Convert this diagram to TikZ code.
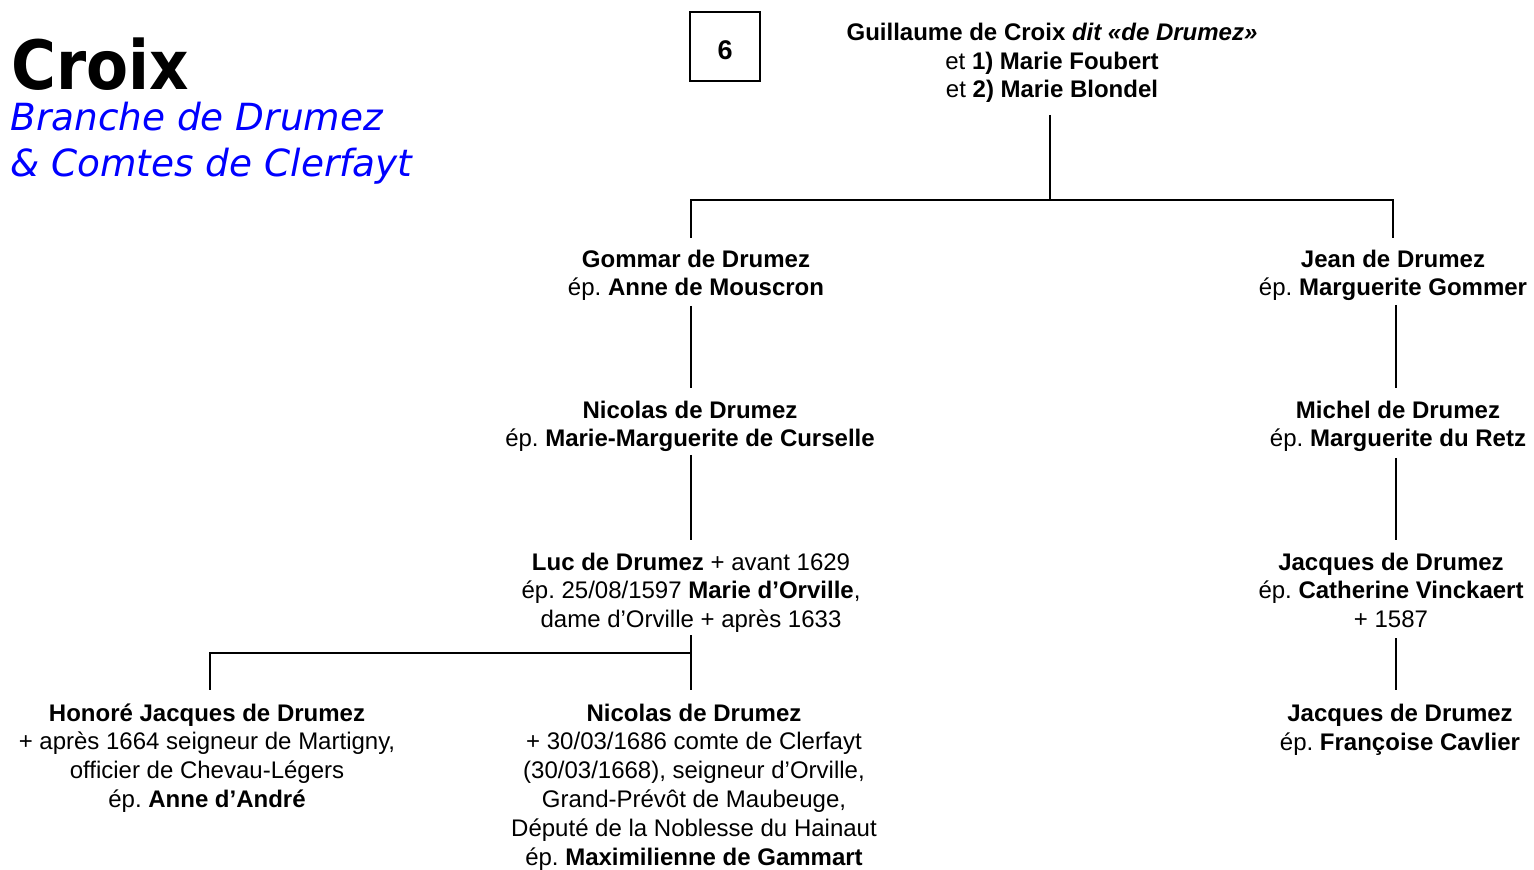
\documentclass[tikz,border=0pt]{standalone}
\usepackage{fontspec}
\setmainfont{Liberation Sans}
\newfontfamily\titlefont[FakeStretch=0.9]{DejaVu Sans}
\newfontfamily\subfont{DejaVu Sans}
\frenchspacing
\begin{document}
\begin{tikzpicture}[x=0.5pt,y=-0.5pt,
  person/.style={align=center,inner sep=0pt,anchor=base,font=\fontsize{12}{14.4}\selectfont},
  link/.style={line width=1.3pt,line join=miter}]
\useasboundingbox (0,0) rectangle (1534,870);
% titles (base anchor = baseline of last line)
\node[anchor=base west,inner sep=0pt,font=\titlefont\bfseries\fontsize{34}{34}\selectfont] (title) at (11,90) {Croix};
\node[anchor=base west,inner sep=0pt,align=left,text=blue,font=\subfont\itshape\fontsize{18.7}{23}\selectfont] (sub) at (10,177) {Branche de Drumez\\\& Comtes de Clerfayt};
\node[draw,line width=0.6pt,minimum width=35pt,minimum height=34.5pt,inner sep=0pt] (num) at (725,46.5) {};
\node[inner sep=0pt,anchor=base,font=\bfseries\fontsize{13.5}{13.5}\selectfont] (numtxt) at (num.center |- 0,60) {6};
% persons
\node[person] (guil) at (1052,98) {\textbf{Guillaume de Croix \textit{dit «de Drumez»}}\\et \textbf{1) Marie Foubert}\\et \textbf{2) Marie Blondel}};
\node[person] (gommar) at (696,296) {\textbf{Gommar de Drumez}\\ép. \textbf{Anne de Mouscron}};
\node[person] (jean) at (1393,296) {\textbf{Jean de Drumez}\\ép. \textbf{Marguerite Gommer}};
\node[person] (nicolas) at (690,447) {\textbf{Nicolas de Drumez}\\ép. \textbf{Marie-Marguerite de Curselle}};
\node[person] (michel) at (1398,447) {\textbf{Michel de Drumez}\\ép. \textbf{Marguerite du Retz}};
\node[person] (luc) at (691,627.6) {\textbf{Luc de Drumez} + avant 1629\\ép. 25/08/1597 \textbf{Marie d’Orville},\\dame d’Orville + après 1633};
\node[person] (jacques) at (1391,627.6) {\textbf{Jacques de Drumez}\\ép. \textbf{Catherine Vinckaert}\\+ 1587};
\node[person] (honore) at (207,807.4) {\textbf{Honoré Jacques de Drumez}\\+ après 1664 seigneur de Martigny,\\officier de Chevau-Légers\\ép. \textbf{Anne d’André}};
\node[person] (nicolasb) at (694,865) {\textbf{Nicolas de Drumez}\\+ 30/03/1686 comte de Clerfayt\\(30/03/1668), seigneur d’Orville,\\Grand-Prévôt de Maubeuge,\\Député de la Noblesse du Hainaut\\ép. \textbf{Maximilienne de Gammart}};
\node[person] (jacquesb) at (1400,750) {\textbf{Jacques de Drumez}\\ép. \textbf{Françoise Cavlier}};
% connector points
\coordinate (gA) at (1050,115);
\coordinate (gB) at (1050,200);
\coordinate (gL) at (691,238);
\coordinate (gR) at (1393,238);
\coordinate (goA) at (691,306);
\coordinate (goB) at (691,388);
\coordinate (niA) at (691,455);
\coordinate (niB) at (691,540);
\coordinate (luA) at (691,635);
\coordinate (luJ) at (691,653);
\coordinate (luR) at (691,690);
\coordinate (luL) at (210,690);
\coordinate (jeA) at (1396,305);
\coordinate (jeB) at (1396,388);
\coordinate (miA) at (1396,458);
\coordinate (miB) at (1396,540);
\coordinate (jaA) at (1396,638);
\coordinate (jaB) at (1396,690);
% connectors
\draw[link] (gA) -- (gB);
\draw[link] (gL) |- (gB) -| (gR);
\draw[link] (goA) -- (goB);
\draw[link] (niA) -- (niB);
\draw[link] (luA) -- (luR);
\draw[link] (luJ) -| (luL);
\draw[link] (jeA) -- (jeB);
\draw[link] (miA) -- (miB);
\draw[link] (jaA) -- (jaB);
\end{tikzpicture}
\end{document}
